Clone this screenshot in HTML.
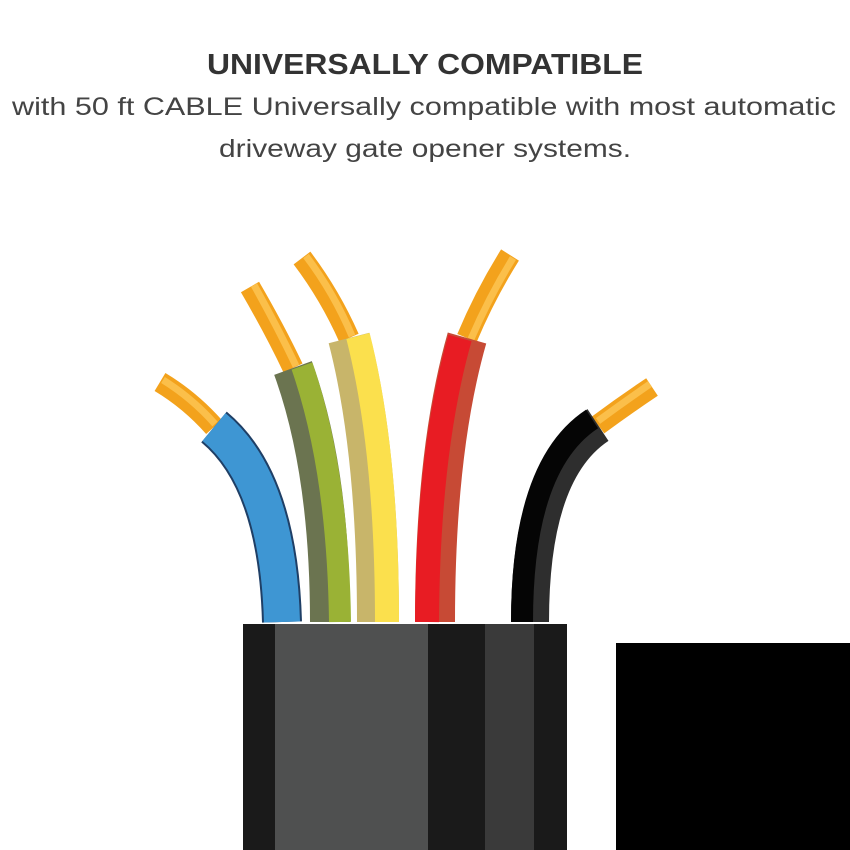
<!DOCTYPE html>
<html><head><meta charset="utf-8"><style>
html,body{margin:0;padding:0;background:#fff;width:850px;height:850px;overflow:hidden}
</style></head><body>
<svg width="850" height="850" viewBox="0 0 850 850" xmlns="http://www.w3.org/2000/svg">
<rect width="850" height="850" fill="#fff"/>
<text x="425" y="74" text-anchor="middle" font-family="Liberation Sans, sans-serif" font-weight="bold" font-size="29" fill="#333" textLength="436" lengthAdjust="spacingAndGlyphs">UNIVERSALLY COMPATIBLE</text>
<text x="424" y="115" text-anchor="middle" font-family="Liberation Sans, sans-serif" font-size="25" fill="#444" textLength="824" lengthAdjust="spacingAndGlyphs">with 50 ft CABLE Universally compatible with most automatic</text>
<text x="425" y="157" text-anchor="middle" font-family="Liberation Sans, sans-serif" font-size="25" fill="#444" textLength="412" lengthAdjust="spacingAndGlyphs">driveway gate opener systems.</text>
<g fill="none" stroke-linecap="butt">
<!-- copper -->
<g stroke="#f3a21c" stroke-width="21">
<path d="M160,382 Q190,400 214,427"/>
<path d="M250,287 Q275,330 293,368"/>
<path d="M302,258 Q330,295 349,338"/>
<path d="M510,255 Q485,295 467,338"/>
<path d="M652,387 Q625,405 598,425"/>
</g>
<g stroke="#fbbf4a" stroke-width="7">
<path d="M163,380 Q192,398 215,424"/>
<path d="M254,285 Q278,328 296,366"/>
<path d="M306,256 Q334,293 352,336"/>
<path d="M513,258 Q489,297 471,339"/>
<path d="M650,384 Q624,402 598,421"/>
</g>
<!-- blue -->
<path d="M214,427 Q278,480 282,622" stroke="#1f3f66" stroke-width="40"/>
<path d="M214,427 Q278,480 282,622" stroke="#3e96d3" stroke-width="36"/>
<!-- green -->
<path d="M293,368 Q330,470 330,622" stroke="#6b7450" stroke-width="40"/>
<path d="M302,366 Q338,470 340,622" stroke="#9ab235" stroke-width="22"/>
<!-- yellow -->
<path d="M349,338 Q378,450 378,622" stroke="#c8b56a" stroke-width="42"/>
<path d="M358,336 Q387,450 387,622" stroke="#fbe04d" stroke-width="24"/>
<!-- red -->
<path d="M467,338 Q435,450 435,622" stroke="#c74a35" stroke-width="40"/>
<path d="M460,338 Q428,450 427,622" stroke="#e81c23" stroke-width="24"/>
<!-- black -->
<path d="M598,425 Q530,470 530,622" stroke="#2e2e2e" stroke-width="38"/>
<path d="M592,419 Q522,465 522,622" stroke="#050505" stroke-width="22"/>
</g>
<!-- cable jacket -->
<rect x="243" y="624" width="324" height="226" fill="#1a1a1a"/>
<rect x="275" y="624" width="153" height="226" fill="#4f5050"/>
<rect x="485" y="624" width="49" height="226" fill="#3a3a3a"/>
<rect x="616" y="643" width="234" height="207" fill="#000"/>
</svg>
</body></html>
